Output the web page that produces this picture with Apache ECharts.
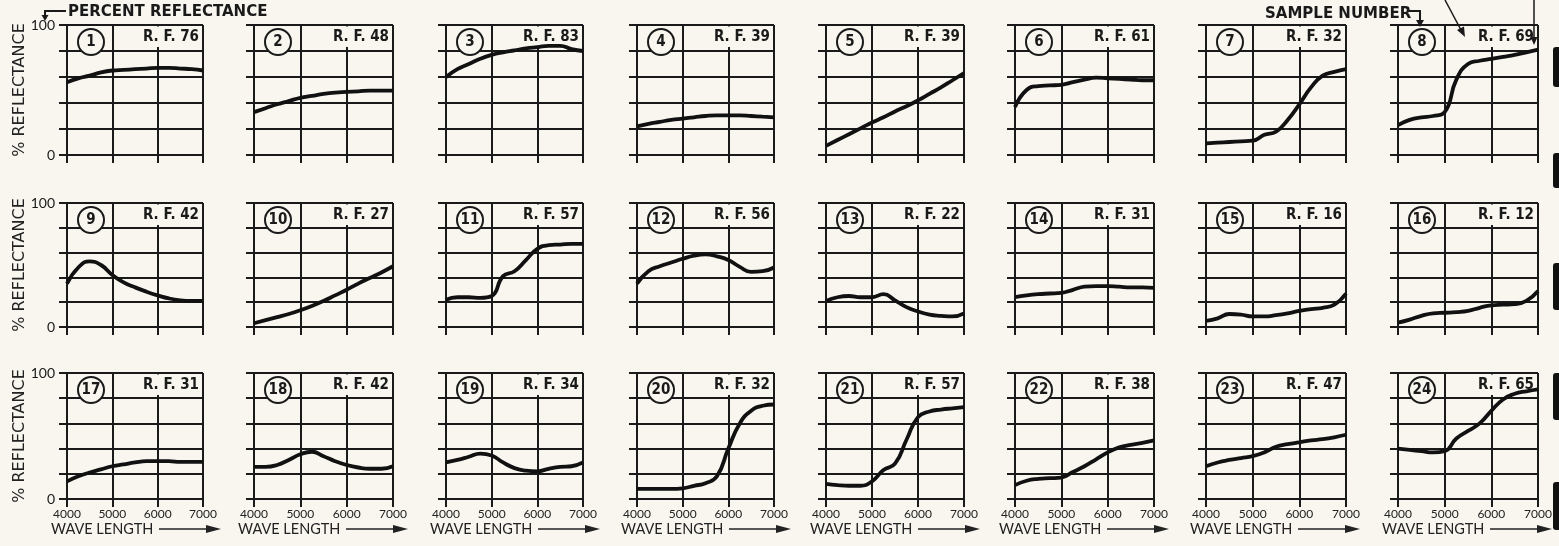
<!DOCTYPE html>
<html><head><meta charset="utf-8">
<script src="https://cdn.jsdelivr.net/npm/echarts@6/dist/echarts.min.js"></script>
<style>html,body{margin:0;padding:0;background:#f8f6ef;}#c{width:1559px;height:546px;}</style>
</head><body><div id="c"></div>
<script>
// ---------- DATA ----------
const wavelengths = [4000,4250,4500,4750,5000,5250,5500,5750,6000,6250,6500,6750,7000];
const xTickLabels = [4000,5000,6000,7000];
const yTickLabels = [0,100];
const sampleNumbers = [1,2,3,4,5,6,7,8,9,10,11,12,13,14,15,16,17,18,19,20,21,22,23,24];
const rfValues = [76,48,83,39,39,61,32,69,42,27,57,56,22,31,16,12,31,42,34,32,57,38,47,65];
const s1  = [56,59,61,63.5,65,65.5,66,66.5,67,67,66.5,66,65];
const s2  = [33,36,39,41.5,44,45.5,47,48,48.5,49,49.5,49.5,49.5];
const s3  = [60,66,70,74,77,79,80.5,82,83,84,84,81.5,80];
const s4  = [22,24,25.5,27,28,29,30,30.5,30.5,30.5,30,29.5,29];
const s5  = [7,11.5,16,20.5,25,29,33.5,37.5,42,47,52,57.5,63];
const s6  = [37,50,53,53.5,54,56,58,59.5,59,58.5,58,57.5,57.5];
const s7  = [9,9.5,10,10.5,11,15.5,18,27,39,52,61,64,66];
const s8  = [23,27,29,30,33,58,70,72.5,74,75.5,77,79,81];
const s9  = [35,48,53,50,42,36,32,28.5,25.5,23,21.5,21,21];
const s10 = [3,5.5,8,10.5,13.5,17,21,25.5,30,35,39.5,44,49];
const s11 = [22,24,24,23.5,25,41,45,54,63,66,66.5,67,67];
const s12 = [35,45,49,52,55,57.5,58.5,57,54,48.5,44.5,45,48];
const s13 = [21,24,25,24,24,26.5,21.5,16,12.5,10,9,8.5,11];
const s14 = [24,25.5,26.5,27,27.5,30,32.5,33,33,32.5,32,32,31.5];
const s15 = [5,7,10.5,10,8.5,8.5,9.5,11,13,14.5,15.5,18,27];
const s16 = [3.5,6,9,11,11.5,12,13,15.5,17.5,18,18.5,21,29];
const s17 = [14,18,21,23.5,26,27.5,29,30,30,30,29.5,29.5,29.5];
const s18 = [25.5,25.5,27,31,35.5,37.5,34,30,27,25,24,24,26];
const s19 = [29,31,33.5,36,34.5,29,24.5,22.5,22,24,25.5,26,29];
const s20 = [8,8,8,8,8.5,10.5,12.5,18,40,60,70,74,75];
const s21 = [12,11,10.5,10.5,14,23,28,47,65,69.5,71,72,73];
const s22 = [11,14.5,16,16.5,17,21.5,26,31.5,37,41,43,44.5,46.5];
const s23 = [26,29,31,32.5,34,37,41.5,43.5,45,46.5,47.5,49,51];
const s24 = [40,39,38,37,38,48,54,60,70,79,83.5,85.5,87];
const allSeries = [s1,s2,s3,s4,s5,s6,s7,s8,s9,s10,s11,s12,s13,s14,s15,s16,s17,s18,s19,s20,s21,s22,s23,s24];

// ---------- LAYOUT ----------
const colLeft = [67,254,446,637,826,1015,1206,1398];
const colWidth = [136,139,137,137,138,139,140,140];
const rowTop = [25,203,373];
const rowHeight = [130,124,126];
const bg = '#f8f6ef';
const ink = '#1a1a1a';
const gridLine = {color: ink, width: 2};

const grids=[], xAxes=[], yAxes=[], series=[], graphics=[];
for (let i=0;i<24;i++){
  const r = Math.floor(i/8), c = i%8;
  const L = colLeft[c], T = rowTop[r], W = colWidth[c], H = rowHeight[r];
  grids.push({left:L, top:T, width:W, height:H});
  xAxes.push({gridIndex:i, type:'value', min:4000, max:7000, interval:1000,
    axisLine:{show:true, lineStyle:gridLine},
    axisTick:{show:true, length:8, lineStyle:gridLine},
    splitLine:{show:true, lineStyle:gridLine},
    axisLabel:{show:r===2, margin:9, color:'#222', fontFamily:'Lato', fontSize:12,
      formatter: v => xTickLabels.includes(v) ? String(v) : ''}});
  yAxes.push({gridIndex:i, type:'value', min:0, max:100, interval:20,
    axisLine:{show:true, lineStyle:gridLine},
    axisTick:{show:true, length:8, lineStyle:gridLine},
    splitLine:{show:true, lineStyle:gridLine},
    axisLabel:{show:c===0, margin:12, color:'#1a1a1a', fontFamily:'Lato', fontSize:14,
      formatter: v => yTickLabels.includes(v) ? String(v) : ''}});
  series.push({type:'line', xAxisIndex:i, yAxisIndex:i, z:5, silent:true,
    data: wavelengths.map((w,k)=>[w, allSeries[i][k]]),
    smooth:0.5, showSymbol:false,
    lineStyle:{color:'#111', width:3.8}});
  // circled sample number
  graphics.push({type:'circle', z:3, shape:{cx:L+24, cy:T+17, r:13},
    style:{fill:bg, stroke:ink, lineWidth:2}});
  graphics.push({type:'text', z:4, x:L+24, y:T+17.5,
    style:{text:String(sampleNumbers[i]), align:'center', verticalAlign:'middle',
      font:'bold 15px "DejaVu Sans Condensed", "DejaVu Sans", sans-serif', fill:ink}});
  // R.F. label with cleared box
  graphics.push({type:'rect', z:3, shape:{x:L+W-60, y:T+1.5, width:58.5, height:20.5},
    style:{fill:bg}});
  graphics.push({type:'text', z:4, x:L+W-4, y:T+12.5,
    style:{text:'R. F. '+rfValues[i], align:'right', verticalAlign:'middle',
      font:'bold 15px "DejaVu Sans Condensed", "DejaVu Sans", sans-serif', fill:ink}});
}

// row titles
for (let r=0;r<3;r++){
  graphics.push({type:'text', z:4, x:20, y:rowTop[r]+rowHeight[r]/2, rotation:Math.PI/2,
    style:{text:'% REFLECTANCE', align:'center', verticalAlign:'middle',
      font:'16px "DejaVu Sans", sans-serif', fill:'#222'}});
}
// wave length captions
for (let c=0;c<8;c++){
  const L = colLeft[c];
  graphics.push({type:'text', z:4, x:L-16, y:529,
    style:{text:'WAVE LENGTH', align:'left', verticalAlign:'middle',
      font:'14.5px Lato, sans-serif', fill:'#222'}});
  graphics.push({type:'line', z:4, shape:{x1:L+92, y1:529, x2:L+141, y2:529},
    style:{stroke:'#222', lineWidth:1.5}});
  graphics.push({type:'polygon', z:4, shape:{points:[[L+139,525],[L+154,529],[L+139,533]]},
    style:{fill:'#222'}});
}
// header annotations
graphics.push({type:'text', z:4, x:68, y:12.5,
  style:{text:'PERCENT REFLECTANCE', align:'left', verticalAlign:'middle',
    font:'bold 15px "DejaVu Sans", sans-serif', fill:ink}});
graphics.push({type:'polyline', z:4, shape:{points:[[66,11],[45,11],[45,16]]},
  style:{stroke:ink, lineWidth:2, fill:null}});
graphics.push({type:'polygon', z:4, shape:{points:[[41.5,15],[48.5,15],[45,21]]}, style:{fill:ink}});

graphics.push({type:'text', z:4, x:1265, y:14,
  style:{text:'SAMPLE NUMBER', align:'left', verticalAlign:'middle',
    font:'bold 15px "DejaVu Sans", sans-serif', fill:ink}});
graphics.push({type:'polyline', z:4, shape:{points:[[1409,11],[1420,11],[1420,21]]},
  style:{stroke:ink, lineWidth:2, fill:null}});
graphics.push({type:'polygon', z:4, shape:{points:[[1416,20],[1424,20],[1420,27]]}, style:{fill:ink}});

graphics.push({type:'line', z:4, shape:{x1:1445, y1:0, x2:1461, y2:30},
  style:{stroke:ink, lineWidth:1.5}});
graphics.push({type:'polygon', z:4, shape:{points:[[1457,30],[1464,26.5],[1465,37]]}, style:{fill:ink}});

graphics.push({type:'line', z:4, shape:{x1:1534, y1:0, x2:1534, y2:38},
  style:{stroke:ink, lineWidth:1.5}});
graphics.push({type:'polygon', z:4, shape:{points:[[1530.5,37],[1537.5,37],[1534,45]]}, style:{fill:ink}});

// dark marks at right page edge
[[47,87],[153,188],[263,310],[373,420],[482,530]].forEach(([y0,y1])=>{
  graphics.push({type:'rect', z:6, shape:{x:1553, y:y0, width:12, height:y1-y0, r:3},
    style:{fill:'#111'}});
});

const chart = echarts.init(document.getElementById('c'), null, {renderer:'canvas'});
chart.setOption({
  backgroundColor: bg,
  animation: false,
  grid: grids, xAxis: xAxes, yAxis: yAxes, series: series,
  graphic: {elements: graphics}
});
</script></body></html>
